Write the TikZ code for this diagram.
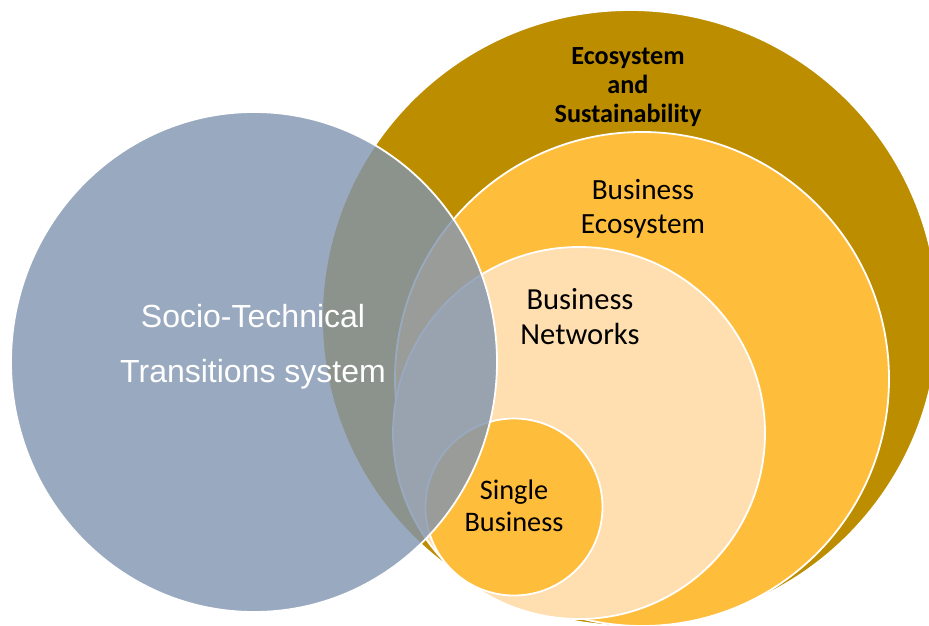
\documentclass[tikz,border=0pt]{standalone}
\usepackage{fontspec}
\setmainfont{Carlito}
\newfontfamily\arialf{Liberation Sans}
\usetikzlibrary{shapes.geometric}
\definecolor{goldc}{RGB}{189,141,0}
\definecolor{orangec}{RGB}{255,189,60}
\definecolor{peachc}{RGB}{255,222,176}
\definecolor{bluec}{RGB}{128,148,175}
\begin{document}
\begin{tikzpicture}[x=1pt,y=-1pt,
  ring/.style={circle, draw=white, line width=1.8pt, inner sep=0pt},
  lbl/.style={align=center, text=black, inner sep=0pt}]
\useasboundingbox (0,0) rectangle (929,626);
\clip (0,0) rectangle (929,626);
\node[ring, fill=goldc, minimum size=616pt] (eco) at (630,318) {};
\node[ring, fill=orangec, minimum size=494pt] (beco) at (642,379) {};
\node[ring, fill=peachc, minimum size=372pt] (bnet) at (579,433) {};
\node[ring, fill=orangec, minimum size=177pt] (single) at (514,507) {};
\node[ellipse, draw=white, line width=1.8pt, fill=bluec, fill opacity=0.8,
      minimum width=486pt, minimum height=500pt, inner sep=0pt] (st) at (254,362) {};
\node[lbl, font=\fontsize{26.2}{29}\selectfont\bfseries] (ecol) at (628,87) {Ecosystem\\and\\Sustainability};
\node[lbl, font=\fontsize{29.3}{34}\selectfont] (becol) at (643,209) {Business\\Ecosystem};
\node[lbl, font=\fontsize{30.6}{35}\selectfont] (bnetl) at (580,317) {Business\\Networks};
\node[lbl, font=\fontsize{28.3}{32}\selectfont] (singlel) at (514,506) {Single\\Business};
\node[lbl, text=white, font=\arialf\fontsize{32}{55}\selectfont] (stl) at (253,347) {Socio-Technical\\Transitions system};
\end{tikzpicture}
\end{document}
